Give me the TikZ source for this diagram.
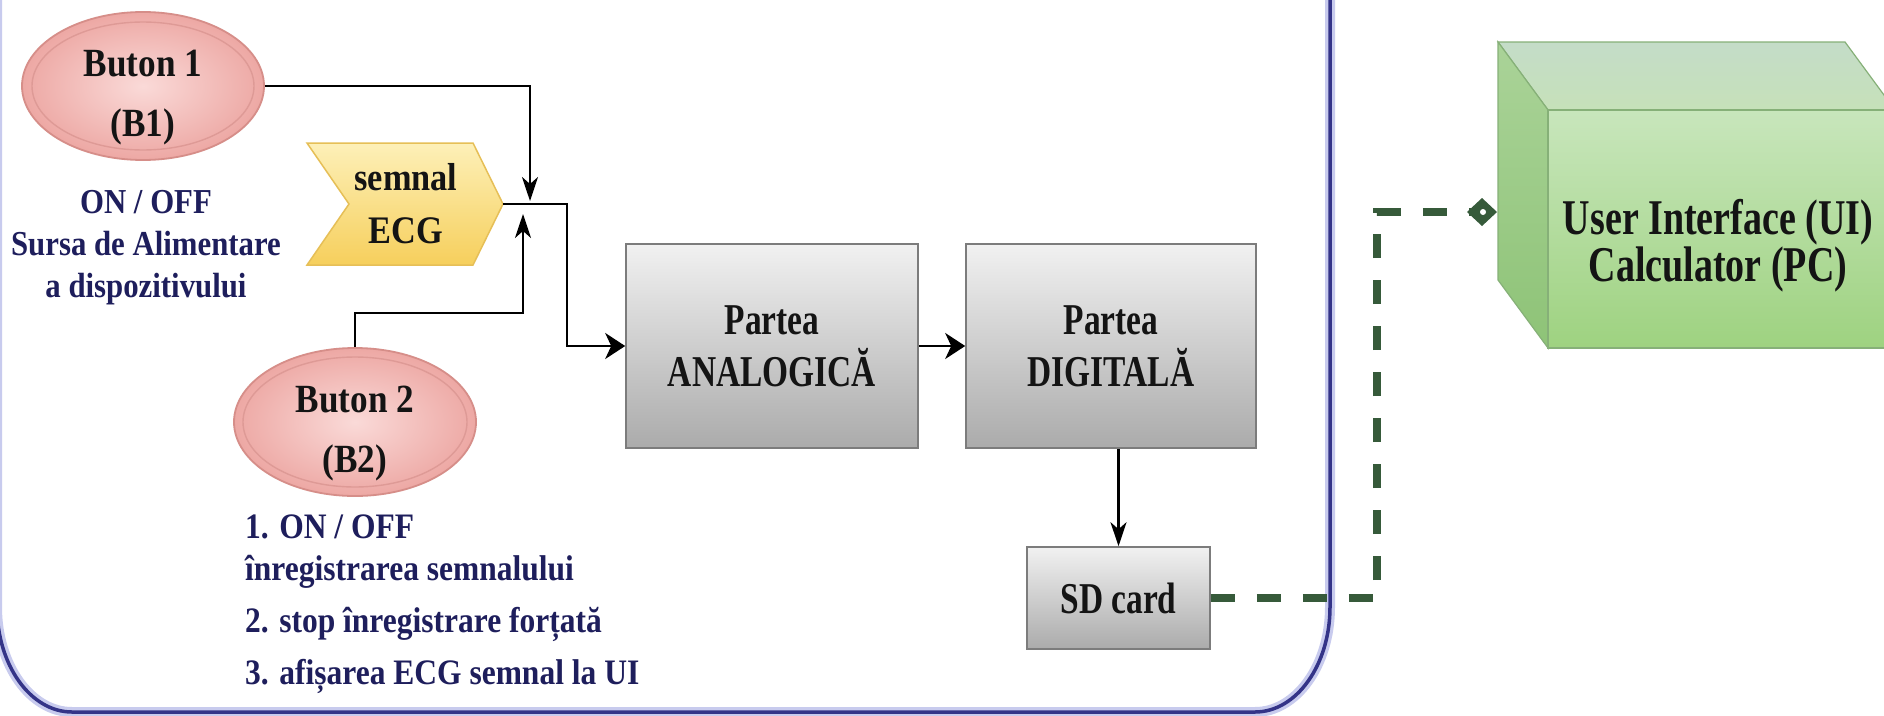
\documentclass[tikz,border=0pt]{standalone}
\usepackage{fontspec}
\setmainfont{Liberation Serif}
\newfontfamily\fA[FakeStretch=0.88]{Liberation Serif}
\newfontfamily\fB[FakeStretch=0.76]{Liberation Serif}
\usetikzlibrary{arrows.meta,shapes.geometric}
\definecolor{navy}{HTML}{1E1E5C}
\definecolor{frame}{HTML}{343488}
\definecolor{glow}{HTML}{C8CBEE}
\definecolor{pinkin}{HTML}{FADAD8}
\definecolor{pinkout}{HTML}{EDA8A4}
\definecolor{btnedge}{HTML}{D68E89}
\definecolor{pinkring}{HTML}{DE9A96}
\definecolor{ytop}{HTML}{FDF0B8}
\definecolor{ybot}{HTML}{F6CF5C}
\definecolor{yedge}{HTML}{E6BF57}
\definecolor{gtop}{HTML}{F1F1F1}
\definecolor{gbot}{HTML}{ABABAB}
\definecolor{gedge}{HTML}{7C7C7C}
\definecolor{dgreen}{HTML}{365A3A}
\definecolor{cedge}{HTML}{86B078}
\definecolor{ctopA}{HTML}{C4DCC8}
\definecolor{ctopB}{HTML}{C6E1B9}
\definecolor{cleftA}{HTML}{AAD398}
\definecolor{cleftB}{HTML}{8EC377}
\definecolor{cfrontA}{HTML}{C8E6BC}
\definecolor{cfrontB}{HTML}{9ED280}
\tikzset{
  btn/.style={ellipse, minimum width=242pt, minimum height=148pt, inner xsep=0pt, inner ysep=-25pt,
    draw=btnedge, line width=1.8pt, inner color=pinkin, outer color=pinkout, align=center,
    font=\fA\bfseries\fontsize{40}{60}\selectfont, text=black!92},
  ring/.style={draw=pinkring, line width=1.4pt},
  gbox/.style={rectangle, draw=gedge, line width=1.6pt, top color=gtop, bottom color=gbot,
    align=center, inner sep=0pt, text=black!92, font=\fB\bfseries\fontsize{44}{52}\selectfont},
  note/.style={align=center, text=navy, inner sep=0pt, font=\fA\bfseries\fontsize{35}{42}\selectfont},
  chevtext/.style={align=center, inner sep=0pt, text=black!92, font=\fA\bfseries\fontsize{39}{53}\selectfont},
  uitext/.style={align=center, inner sep=0pt, text=black!92, font=\fB\bfseries\fontsize{50}{47}\selectfont},
  chev/.style={draw=yedge, line width=1.5pt, top color=ytop, bottom color=ybot},
  conn/.style={draw=black, line width=2.3pt},
  tipH/.style={-{Stealth[length=20pt,width=26pt,inset=6pt]}},
  tipV/.style={-{Stealth[length=24pt,width=16pt,inset=7pt]}},
  link/.style={draw=dgreen, line width=7.5pt, dash pattern=on 24pt off 22pt},
  linktip/.style={-{Diamond[length=30pt,width=28pt]}},
  face/.style={draw=cedge, line width=1.2pt},
}
\begin{document}
\begin{tikzpicture}[x=1pt,y=-1pt]
\useasboundingbox (0,0) rectangle (1884,715);
\fill[white] (0,0) rectangle (1884,715);

% container frame (glow + line)
\draw[glow, line width=10pt]
  (-3,-40) -- (-3,607) .. controls (-3,665) and (30.6,712) .. (72,712)
  -- (1255,712) .. controls (1296.4,712) and (1330,665) .. (1330,607) -- (1330,-40);
\draw[frame, line width=3.5pt]
  (-3,-40) -- (-3,607) .. controls (-3,665) and (30.6,712) .. (72,712)
  -- (1255,712) .. controls (1296.4,712) and (1330,665) .. (1330,607) -- (1330,-40);

% buttons
\node[btn] (b1) at (143,86) {\rule{0pt}{50pt}Buton 1\\(B1)};
\draw[ring] (b1.center) ellipse [x radius=111pt, y radius=64pt];
\node[btn] (b2) at (355,422) {\rule{0pt}{50pt}Buton 2\\(B2)};
\draw[ring] (b2.center) ellipse [x radius=112pt, y radius=65pt];

% notes
\node[note, anchor=north] (n1) at (146,183)
  {\rule{0pt}{30pt}ON / OFF\\Sursa de Alimentare\\a dispozitivului};
\node[note, anchor=north west, align=left, font=\fA\bfseries\fontsize{35.8}{52}\selectfont] (n2) at (245,508)
  {\rule{0pt}{30pt}1. ON / OFF\\[-10pt]înregistrarea semnalului\\2. stop înregistrare forțată\\3. afișarea ECG semnal la UI};

% ECG signal chevron
\draw[chev] (307,143) -- (473,143) -- (503,204) -- (473,265) -- (307,265) -- (349,204) -- cycle;
\coordinate (ecgtip) at (503,204);
\node[chevtext, anchor=north] (ecg) at (406,160) {\rule{0pt}{30pt}semnal\\ECG};

% processing blocks
\node[gbox, minimum width=292pt, minimum height=204pt] (ana) at (772,346) {Partea\\ANALOGICĂ};
\node[gbox, minimum width=290pt, minimum height=204pt] (dig) at (1111,346) {Partea\\DIGITALĂ};
\node[gbox, minimum width=183pt, minimum height=102pt] (sd) at (1118.5,598) {SD card};

% UI cube
\draw[face, top color=ctopA, bottom color=ctopB] (1498,42) -- (1845,42) -- (1895,110) -- (1548,110) -- cycle;
\draw[face, top color=cleftA, bottom color=cleftB] (1498,42) -- (1548,110) -- (1548,348) -- (1498,280) -- cycle;
\draw[face, top color=cfrontA, bottom color=cfrontB] (1548,110) rectangle (1895,348);
\node[uitext] (ui) at (1718,246) {User Interface (UI)\\Calculator (PC)};
\coordinate (uiin) at (1497,212);

% junction coordinates
\coordinate (jt) at (530,201);
\coordinate (jb2) at (523,313);
\coordinate (jb) at (523,214);
\coordinate (jc) at (567,346);
\coordinate (jg) at (1377,212);

% connectors
\draw[conn, tipV] (b1.east) -| (jt);
\draw[conn, tipV] (b2.north) |- (jb2) -- (jb);
\draw[conn, tipH] (ecgtip) -| (jc) -- (ana.west);
\draw[conn, tipH] (ana.east) -- (dig.west);
\draw[conn, tipV] (sd.north |- dig.south) -- (sd.north);
\draw[link, linktip] (sd.east) -| (jg) -- (uiin);
\fill[white] ([xshift=-14pt]uiin) circle (3pt);
\end{tikzpicture}
\end{document}
